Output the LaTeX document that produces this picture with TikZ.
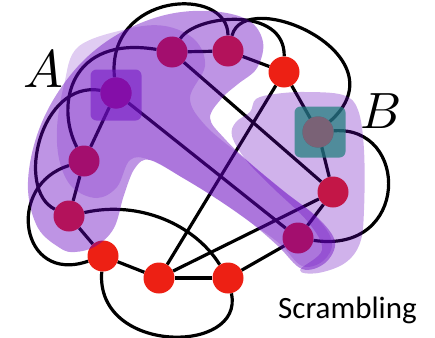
\documentclass[tikz,border=0pt]{standalone}
\usepackage{fontspec}
\newfontfamily\labelfont{Carlito}
\definecolor{nodered}{RGB}{237,32,20}
\definecolor{blobviolet}{RGB}{100,0,190}
\definecolor{squareA}{RGB}{115,20,195}
\definecolor{squareB}{RGB}{30,125,125}
\definecolor{coreA}{RGB}{132,14,168}
\definecolor{coreB}{RGB}{122,98,118}
\pgfdeclarelayer{edges}
\pgfdeclarelayer{blobs}
\pgfdeclarelayer{top}
\pgfsetlayers{edges,main,blobs,top}
\begin{document}
\begin{tikzpicture}[x=1pt,y=-1pt,
  site/.style={circle, fill=nodered, minimum size=31pt, inner sep=0pt},
  link/.style={line width=3.2pt, black},
  lightblob/.style={fill=blobviolet, fill opacity=0.42},
  midblob/.style={fill=blobviolet, fill opacity=0.20},
  paleblob/.style={fill=blobviolet, fill opacity=0.30},
  region/.style={rounded corners=6pt, minimum size=51pt, inner sep=0pt}]
\useasboundingbox (0,0) rectangle (435,337);

% sites of the graph
\node[site] (nA)  at (116,93)  {};
\node[site] (n2)  at (172,52)  {};
\node[site] (n3)  at (228,51)  {};
\node[site] (n4)  at (284,72)  {};
\node[site] (nB)  at (318,132) {};
\node[site] (n6)  at (333,192) {};
\node[site] (n7)  at (298,238) {};
\node[site] (n8)  at (228,278) {};
\node[site] (n9)  at (159,278) {};
\node[site] (n10) at (103,256) {};
\node[site] (n11) at (69,216)  {};
\node[site] (n12) at (84,161)  {};

% couplings, behind the sites
\begin{pgfonlayer}{edges}
  % neighbours along the ring
  \draw[link] (n2) -- (n3);
  \draw[link] (n3) -- (n4);
  \draw[link] (n4) -- (nB);
  \draw[link] (nB) -- (n6);
  \draw[link] (n6) -- (n7);
  \draw[link] (n7) -- (n8);
  \draw[link] (n8) -- (n9);
  \draw[link] (n9) -- (n10);
  \draw[link] (n10) -- (n11);
  \draw[link] (n11) -- (n12);
  \draw[link] (n12) -- (nA);
  % long chords
  \draw[link] (nA) -- (n7);
  \draw[link] (n2) -- (n6);
  \draw[link] (n4) -- (n9);
  \draw[link] (n6) -- (n9);
  % outer arcs
  \draw[link] (n10) .. controls (20,285) and (5,185) .. (n12);
  \draw[link] (n11) .. controls (15,190) and (40,80) .. (nA);
  \draw[link] (nA) .. controls (106,-8) and (228,-15) .. (n3);
  \draw[link] (n12) .. controls (55,105) and (70,35) .. (n2);
  \draw[link] (n2) .. controls (195,15) and (285,5) .. (n4);
  \draw[link] (n3) .. controls (245,-15) and (405,55) .. (nB);
  \draw[link] (nB) .. controls (410,125) and (410,255) .. (n7);
  \draw[link] (n10) .. controls (95,355) and (245,355) .. (n8);
  \draw[link] (n11) .. controls (140,200) and (195,225) .. (n8);
\end{pgfonlayer}

% translucent regions over the graph
\begin{pgfonlayer}{blobs}
  \fill[lightblob] plot[smooth cycle, tension=0.6] coordinates {
    (60,248) (38,228) (28,190) (34,145) (52,102) (82,62) (120,33)
    (165,15) (210,11) (248,20) (263,42) (257,68) (238,84) (222,98)
    (210,118) (224,138) (250,163) (285,192) (318,218) (335,242)
    (325,263) (302,269) (278,246) (250,222) (217,199) (183,178)
    (150,160) (135,168) (124,195) (114,228) (96,246) (75,252)};
  \fill[midblob] plot[smooth cycle, tension=0.6] coordinates {
    (78,47) (127,29) (165,26) (195,40) (205,66) (190,98) (205,125)
    (240,155) (282,190) (316,217) (332,242) (323,261) (302,266)
    (280,244) (250,222) (217,199) (183,178) (150,160) (130,160)
    (117,187) (97,198) (73,188) (60,163) (57,128) (64,85)};
  \fill[paleblob] plot[smooth cycle, tension=0.6] coordinates {
    (250,112) (256,99) (275,94) (305,92) (343,95) (358,110)
    (364,150) (364,210) (360,243) (345,263) (318,273) (300,270)
    (322,250) (308,222) (272,187) (246,160) (232,136) (236,122)};
  \node[region, fill=squareA, fill opacity=0.55] (boxA) at (116,95) {};
  \node[region, fill=squareB, fill opacity=0.72] (boxB) at (320,132) {};
\end{pgfonlayer}

% the two marked sites and the labels
\begin{pgfonlayer}{top}
  \node[site, fill=coreA] (coreA) at (nA) {};
  \node[site, fill=coreB] (coreB) at (nB) {};
  \node[scale=5.3] (labA) at (43,69) {$A$};
  \node[scale=5.1] (labB) at (381,111) {$B$};
  \node[anchor=base west, inner sep=0pt,
        font=\labelfont\fontsize{31}{31}\selectfont] (caption) at (278,318) {Scrambling};
\end{pgfonlayer}
\end{tikzpicture}
\end{document}
